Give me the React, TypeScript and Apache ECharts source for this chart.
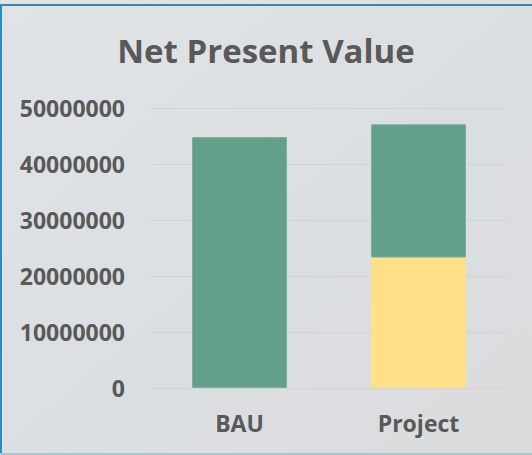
import React, { useEffect, useRef } from "react";
import * as echarts from "echarts";

const categories = ["BAU", "Project"];
const lowerValues: (number | string)[] = ["-", 23300000];
const upperValues: number[] = [44800000, 23800000];
const yTicks = { min: 0, max: 50000000, interval: 10000000 };

export default function App() {
  const ref = useRef<HTMLDivElement>(null);
  useEffect(() => {
    if (!ref.current) return;
    const chart = echarts.init(ref.current, null, { renderer: "svg" });
    const font = "'Open Sans', sans-serif";
    chart.setOption({
      animation: false,
      backgroundColor: {
        type: "linear",
        x: 0,
        y: 0,
        x2: 1,
        y2: 1,
        colorStops: [
          { offset: 0, color: "#e1e4e6" },
          { offset: 0.5, color: "#dcdfe1" },
          { offset: 1, color: "#dadcde" },
        ],
      },
      title: {
        text: "Net Present Value",
        left: "center",
        top: 29,
        textStyle: {
          fontFamily: font,
          fontWeight: "bold",
          fontSize: 33,
          color: "#595959",
        },
      },
      graphic: [
        { type: "rect", shape: { x: 0, y: 4, width: 532, height: 2 }, style: { fill: "#3a87a8" }, silent: true },
        { type: "rect", shape: { x: 0, y: 4, width: 2, height: 451 }, style: { fill: "#2a8dbf" }, silent: true },
        { type: "rect", shape: { x: 0, y: 453, width: 532, height: 2 }, style: { fill: "#a9c4d2" }, silent: true },
      ],
      grid: { left: 150, right: 24, top: 108, bottom: 67, containLabel: false },
      xAxis: {
        type: "category",
        data: categories,
        axisLine: { show: false },
        axisTick: { show: false },
        axisLabel: {
          fontFamily: font,
          fontWeight: "bold",
          fontSize: 23,
          color: "#595959",
          margin: 23,
        },
      },
      yAxis: {
        type: "value",
        min: yTicks.min,
        max: yTicks.max,
        interval: yTicks.interval,
        axisLine: { show: false },
        axisTick: { show: false },
        splitLine: { lineStyle: { color: "#d2d3d4", width: 1 } },
        axisLabel: {
          fontFamily: font,
          fontWeight: "bold",
          fontSize: 23,
          color: "#595959",
          margin: 25,
          formatter: (v: number) => String(v),
        },
      },
      series: [
        {
          name: "Lower",
          type: "bar",
          stack: "npv",
          data: lowerValues,
          barWidth: 95,
          itemStyle: { color: "#ffdf88" },
        },
        {
          name: "Upper",
          type: "bar",
          stack: "npv",
          data: upperValues,
          barWidth: 95,
          itemStyle: { color: "#62a08a", borderColor: "#7cb09c", borderWidth: 1 },
        },
      ],
    });
    return () => chart.dispose();
  }, []);
  return (
    <div
      ref={ref}
      style={{ position: "fixed", left: 0, top: 0, width: 532, height: 455 }}
    />
  );
}
